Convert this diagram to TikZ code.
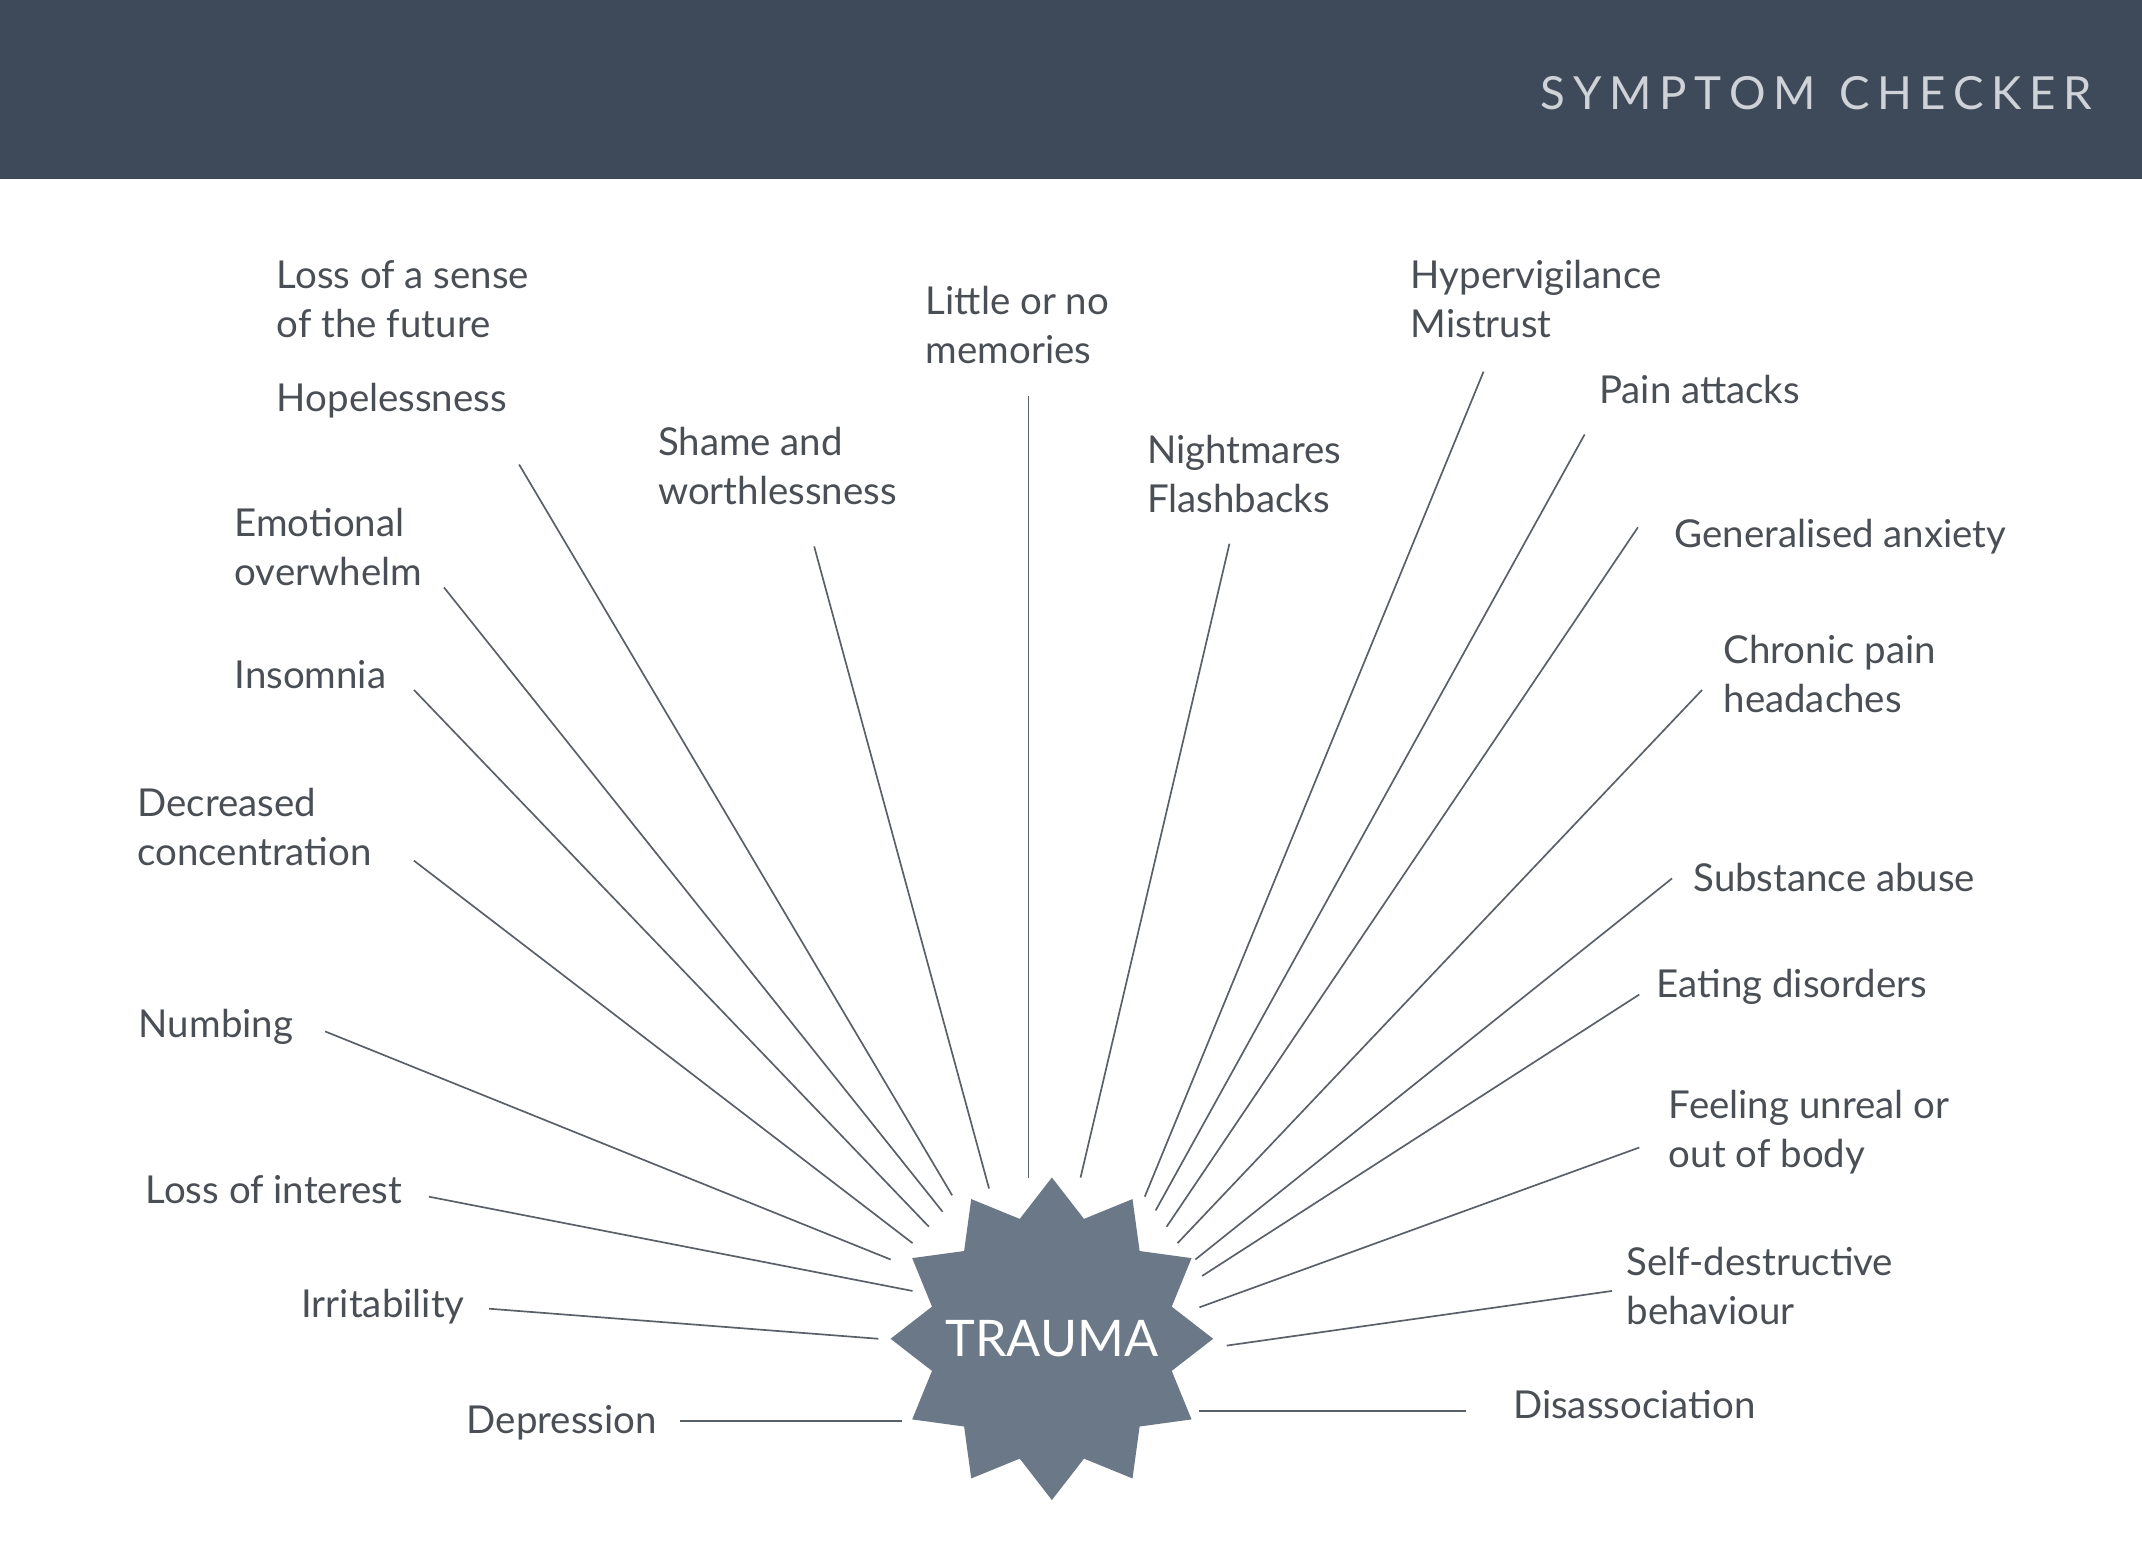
\documentclass[tikz,border=0pt]{standalone}
\usepackage{fontspec}
\setmainfont{Lato}
\usetikzlibrary{shapes.geometric}
\definecolor{hdr}{HTML}{3E4A5A}
\definecolor{starc}{HTML}{6B7887}
\definecolor{txt}{HTML}{4A4F55}
\definecolor{ln}{HTML}{5A6068}
\begin{document}
\begin{tikzpicture}[x=0.01cm,y=-0.01cm,
  lbl/.style={anchor=north west,inner sep=0pt,align=left,text=txt,font=\fontsize{8}{10.2}\selectfont},
  conn/.style={draw=ln,line width=0.35pt}]
\useasboundingbox (0,0) rectangle (1568,1129);
\fill[white] (0,0) rectangle (1568,1129);
\fill[hdr] (0,0) rectangle (1568,131);
\node[anchor=east,inner sep=0pt,text=white!75!hdr,font=\fontsize{9.5}{11}\selectfont] (title) at (1532,68) {S\,Y\,M\,P\,T\,O\,M\ \ C\,H\,E\,C\,K\,E\,R};
\node[star,star points=12,star point ratio=1.3,minimum size=2.36cm,fill=starc,inner sep=0pt] (star) at (770,980) {};
\node[text=white,font=\fontsize{10.5}{12}\selectfont,inner sep=0pt] (trauma) at (770,980) {TRAUMA};
% labels
\node[lbl] (l1) at (202,190) {Loss of a sense\\of the future};
\node[lbl] (l2) at (202,280) {Hopelessness};
\node[lbl] (l3) at (481,312) {Shame and\\worthlessness};
\node[lbl] (l4) at (677,209) {Little or no\\memories};
\node[lbl] (l5) at (839,318) {Nightmares\\Flashbacks};
\node[lbl] (l6) at (1032,190) {Hypervigilance\\Mistrust};
\node[lbl] (l7) at (1170,274) {Pain attacks};
\node[lbl] (l8) at (1225,379) {Generalised anxiety};
\node[lbl] (l9) at (1261,464) {Chronic pain\\headaches};
\node[lbl] (l10) at (171,371) {Emotional\\overwhelm};
\node[lbl] (l11) at (171,483) {Insomnia};
\node[lbl] (l12) at (100,576) {Decreased\\concentration};
\node[lbl] (l13) at (101,738) {Numbing};
\node[lbl] (l14) at (106,860) {Loss of interest};
\node[lbl] (l15) at (220,943) {Irritability};
\node[lbl] (l16) at (341,1028) {Depression};
\node[lbl] (l17) at (1239,631) {Substance abuse};
\node[lbl] (l18) at (1212,709) {Eating disorders};
\node[lbl] (l19) at (1221,797) {Feeling unreal or\\out of body};
\node[lbl] (l20) at (1190,912) {Self-destructive\\behaviour};
\node[lbl] (l21) at (1107,1017) {Disassociation};
% connector ends
\foreach \n/\sx/\sy/\ex/\ey in {
  a/380/340/697/875, b/325/430/690/887, c/303/505/680/898, d/303/630/668/910,
  e/238/755/652/922, f/314/876/668/945, g/358/958/643/980, h/498/1040/660/1040,
  i/596/400/724/870, j/753/290/753/862, k/900/398/791/862, l/1086/272/838/876,
  m/1160/318/846/886, n/1199/386/854/898, o/1246/505/862/910, p/1224/643/875/922,
  q/1200/728/880/934, r/1200/840/878/957, s/1180/945/898/985, t/1073/1033/878/1033}{
  \coordinate (s\n) at (\sx,\sy);
  \coordinate (e\n) at (\ex,\ey);
  \draw[conn] (s\n) -- (e\n);
}
\end{tikzpicture}
\end{document}
